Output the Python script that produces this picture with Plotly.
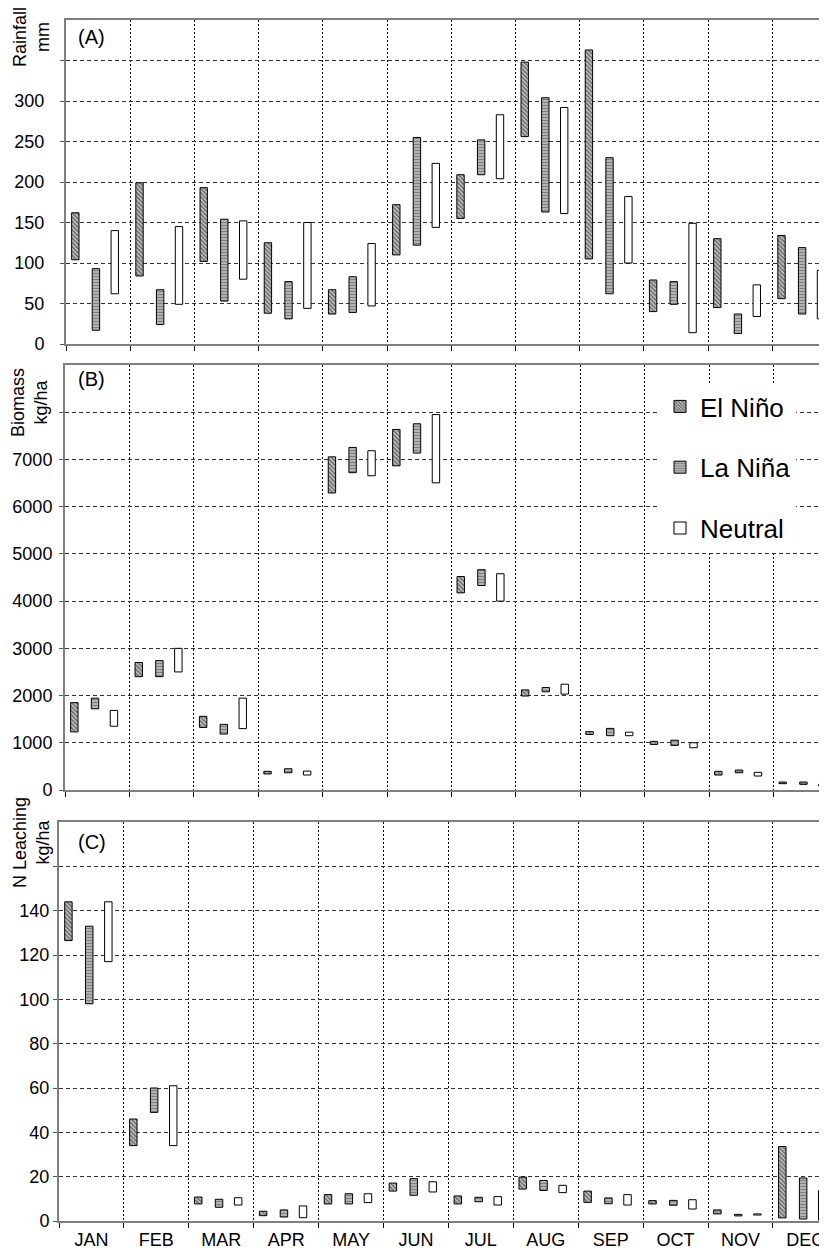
import plotly.graph_objects as go

months = ["JAN", "FEB", "MAR", "APR", "MAY", "JUN", "JUL", "AUG", "SEP", "OCT", "NOV", "DEC"]
series = ["El Niño", "La Niña", "Neutral"]

# Rainfall (mm): [low, high] per month
rain_elnino_low  = [104, 84, 102, 38, 37, 110, 155, 256, 105, 40, 45, 56]
rain_elnino_high = [162, 199, 193, 125, 67, 172, 209, 348, 363, 79, 130, 134]
rain_lanina_low  = [17, 24, 53, 31, 39, 122, 209, 163, 62, 49, 13, 37]
rain_lanina_high = [93, 67, 154, 77, 83, 255, 252, 304, 230, 77, 37, 119]
rain_neutral_low  = [62, 49, 80, 44, 47, 144, 204, 161, 100, 14, 34, 31]
rain_neutral_high = [140, 145, 152, 150, 124, 223, 283, 292, 182, 149, 73, 91]

# Biomass (kg/ha)
bio_elnino_low  = [1230, 2400, 1325, 340, 6290, 6865, 4175, 1990, 1175, 965, 317, 134]
bio_elnino_high = [1850, 2700, 1560, 395, 7055, 7635, 4520, 2120, 1235, 1030, 395, 169]
bio_lanina_low  = [1720, 2400, 1185, 365, 6720, 7135, 4330, 2080, 1150, 945, 365, 120]
bio_lanina_high = [1945, 2740, 1390, 450, 7255, 7755, 4665, 2170, 1305, 1055, 423, 169]
bio_neutral_low  = [1350, 2500, 1300, 317, 6655, 6505, 4000, 2030, 1150, 895, 296, 85]
bio_neutral_high = [1685, 3000, 1945, 400, 7185, 7950, 4580, 2240, 1225, 1000, 374, 120]

# N leaching (kg/ha)
nl_elnino_low  = [126.5, 34, 7.7, 2.4, 7.7, 13.5, 7.7, 14.4, 8.4, 7.7, 3.2, 1.4]
nl_elnino_high = [144, 46, 10.8, 4.4, 11.9, 17.1, 11.3, 19.8, 13.5, 9.2, 5.0, 33.6]
nl_lanina_low  = [98, 49, 6.2, 1.8, 7.7, 11.6, 8.7, 13.8, 7.8, 7.1, 2.3, 0.9]
nl_lanina_high = [133, 60, 9.8, 5.0, 12.3, 19.1, 10.7, 18.3, 10.4, 9.3, 3.0, 19.4]
nl_neutral_low  = [117, 34, 7.2, 1.5, 8.3, 13.1, 7.2, 12.8, 7.2, 5.4, 2.7, 0.3]
nl_neutral_high = [144, 61, 10.5, 6.8, 12.3, 17.7, 11.0, 16.1, 11.9, 9.6, 3.2, 13.8]

y_tickvals_a = [0, 50, 100, 150, 200, 250, 300, 350]
y_ticktext_a = ["0", "50", "100", "150", "200", "250", "300", ""]
y_tickvals_b = [0, 1000, 2000, 3000, 4000, 5000, 6000, 7000, 8000]
y_ticktext_b = ["0", "1000", "2000", "3000", "4000", "5000", "6000", "7000", ""]
y_tickvals_c = [0, 20, 40, 60, 80, 100, 120, 140, 160]
y_ticktext_c = ["0", "20", "40", "60", "80", "100", "120", "140", ""]

FONT = "Liberation Sans, Arial, sans-serif"
offsets = [-0.355, -0.034, 0.26]
styles = [
    dict(color="white", pattern=dict(shape="\\", fgcolor="#111111", bgcolor="#d0d0d0", size=3, solidity=0.6)),
    dict(color="#888", pattern=dict(shape="-", fgcolor="#3a3a3a", bgcolor="#c8c8c8", size=3, solidity=0.55)),
    dict(color="white"),
]

panels = [
    (rain_elnino_low, rain_elnino_high, rain_lanina_low, rain_lanina_high, rain_neutral_low, rain_neutral_high),
    (bio_elnino_low, bio_elnino_high, bio_lanina_low, bio_lanina_high, bio_neutral_low, bio_neutral_high),
    (nl_elnino_low, nl_elnino_high, nl_lanina_low, nl_lanina_high, nl_neutral_low, nl_neutral_high),
]

fig = go.Figure()
for p, data in enumerate(panels):
    xa = "x" if p == 0 else f"x{p+1}"
    ya = "y" if p == 0 else f"y{p+1}"
    for s in range(3):
        lows, highs = data[2 * s], data[2 * s + 1]
        xs = [i + 1 + offsets[s] for i in range(12)]
        fig.add_trace(go.Bar(
            x=xs,
            y=[h - l for l, h in zip(lows, highs)],
            base=lows,
            width=0.115,
            name=series[s],
            legendgroup=series[s],
            showlegend=(p == 1),
            marker=dict(**styles[s], line=dict(color="black", width=1)),
            xaxis=xa, yaxis=ya,
        ))

# page is offset by 8px body margin: fig coords = page coords - 8
OFF = 8
W, H = 827 - OFF, 1250 - OFF
LEFT = 59                      # page x of leftmost axis (panel C)
T = 20 - OFF
B = H - (1221 - OFF)
ph = H - T - B
pw = 827 - LEFT

def py(page_y):
    return (H - B - (page_y - OFF)) / ph

def px(page_x):
    return (page_x - LEFT) / pw

panel_px = [(20, 344), (365, 790), (822, 1221)]
panel_left = [66, 65, 59]
month_w = [64.2, 64.4, 64.9]
standoffs = [12, 3, 0]
domains = [[py(b), py(t)] for t, b in panel_px]
yranges = [[0, 400], [0, 9000], [0, 180]]
ytv = [y_tickvals_a, y_tickvals_b, y_tickvals_c]
ytt = [y_ticktext_a, y_ticktext_b, y_ticktext_c]

layout = dict(
    width=W, height=H,
    margin=dict(l=LEFT - OFF, r=0, t=T, b=B),
    paper_bgcolor="white", plot_bgcolor="white",
    barmode="overlay",
    font=dict(family=FONT, size=18, color="black"),
    legend=dict(x=px(660), y=py(383), xanchor="left", yanchor="top", bgcolor="white",
                font=dict(family=FONT, size=26, color="black"),
                tracegroupgap=24, itemwidth=30),
)
for p in range(3):
    xk = "xaxis" if p == 0 else f"xaxis{p+1}"
    yk = "yaxis" if p == 0 else f"yaxis{p+1}"
    ya = "y" if p == 0 else f"y{p+1}"
    xa = "x" if p == 0 else f"x{p+1}"
    layout[xk] = dict(
        range=[0.5, 0.5 + (827 - panel_left[p]) / month_w[p]], anchor=ya,
        domain=[px(panel_left[p]), 1],
        tickmode="array", tickvals=list(range(1, 13)),
        ticktext=months if p == 2 else [""] * 12,
        showticklabels=(p == 2),
        ticks="", showgrid=False, zeroline=False,
        showline=True, linecolor="#7f7f7f", linewidth=2, mirror=True,
        tickfont=dict(family=FONT, size=18, color="black"),
        ticklabelstandoff=1,
        automargin=False,
        minor=dict(tick0=0.5, dtick=1, ticks="outside", ticklen=5, tickcolor="black", tickwidth=1,
                   showgrid=True, gridcolor="black", gridwidth=1, griddash="2px,2px"),
    )
    layout[yk] = dict(
        range=yranges[p], domain=domains[p], anchor=xa,
        tickmode="array", tickvals=ytv[p], ticktext=ytt[p],
        ticks="outside", ticklen=4, tickcolor="#555", tickwidth=1,
        showgrid=True, gridcolor="#333333", gridwidth=1, griddash="4px,3px",
        zeroline=False, showline=True, linecolor="#7f7f7f", linewidth=2,
        tickfont=dict(family=FONT, size=18, color="black"),
        ticklabelstandoff=standoffs[p],
        automargin=False,
    )
fig.update_layout(**layout)

panel_labels = ["(A)", "(B)", "(C)"]
label_offsets = [4, 1, 7]
ytitles = ["Rainfall<br>mm", "Biomass<br>kg/ha", "N Leaching<br>kg/ha"]
ytitle_centers = [37, 403, 843]
ytitle_x = [31, 29, 31]
for p in range(3):
    yd = "y domain" if p == 0 else f"y{p+1} domain"
    dtop, dbot = panel_px[p]
    fig.add_annotation(text=panel_labels[p], xref="paper", yref=yd,
                       x=px(76), y=1 - label_offsets[p] / (dbot - dtop),
                       xanchor="left", yanchor="top", showarrow=False,
                       font=dict(family=FONT, size=20, color="black"))
    fig.add_annotation(text=ytitles[p], xref="paper", yref="paper",
                       x=px(ytitle_x[p]), y=py(ytitle_centers[p]),
                       xanchor="center", yanchor="middle", textangle=-90, showarrow=False,
                       font=dict(family=FONT, size=18, color="black"))

fig.write_html("out.html")
